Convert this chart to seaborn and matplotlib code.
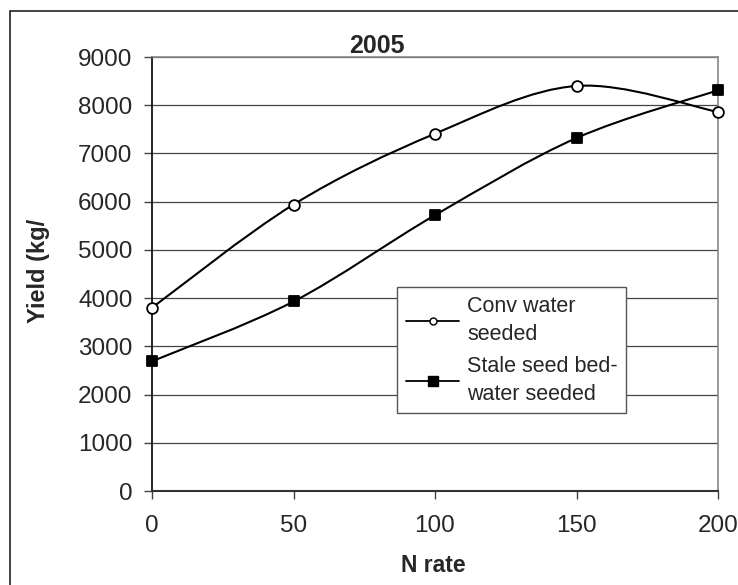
import numpy as np
import pandas as pd
import matplotlib
matplotlib.use("Agg")
import matplotlib.pyplot as plt
from matplotlib.path import Path
from matplotlib.patches import PathPatch, Rectangle
from matplotlib.lines import Line2D
import seaborn as sns

# Data
n_rate = [0, 50, 100, 150, 200]
conv_water = [3800, 5940, 7410, 8400, 7860]
stale_seed = [2690, 3930, 5720, 7320, 8310]
series_names = ["Conv water\nseeded", "Stale seed bed-\nwater seeded"]
y_ticks = [0, 1000, 2000, 3000, 4000, 5000, 6000, 7000, 8000, 9000]
x_ticks = [0, 50, 100, 150, 200]

df = pd.DataFrame({
    "N rate": n_rate * 2,
    "Yield": conv_water + stale_seed,
    "series": [series_names[0]] * len(n_rate) + [series_names[1]] * len(n_rate),
})


def smooth_path(x, y):
    # Excel style smoothed line: cubic Bezier through each point
    pts = np.column_stack([x, y]).astype(float)
    ext = np.vstack([pts[0], pts, pts[-1]])
    verts = [pts[0]]
    codes = [Path.MOVETO]
    for i in range(1, len(ext) - 2):
        p0, p1, p2, p3 = ext[i - 1], ext[i], ext[i + 1], ext[i + 2]
        verts += [p1 + (p2 - p0) / 6, p2 - (p3 - p1) / 6, p2]
        codes += [Path.CURVE4] * 3
    return Path(verts, codes)


sns.set_style("white")
plt.rcParams["font.family"] = ["Liberation Sans", "DejaVu Sans"]

fig = plt.figure(figsize=(7.38, 5.85), dpi=100)
ax = fig.add_axes([152 / 738, 1 - 491 / 585, 566 / 738, 434 / 585])

markers = {series_names[0]: "o", series_names[1]: "s"}
faces = {series_names[0]: "white", series_names[1]: "black"}
for name in series_names:
    sub = df[df["series"] == name]
    ax.add_patch(PathPatch(smooth_path(sub["N rate"], sub["Yield"]),
                           facecolor="none", edgecolor="black", lw=1.5, zorder=3))
    sns.scatterplot(data=sub, x="N rate", y="Yield", marker=markers[name],
                    color=faces[name], edgecolor="black", linewidth=1.3,
                    s=60, zorder=4, ax=ax, legend=False, clip_on=False)

ax.set_xlim(0, 200)
ax.set_ylim(0, 9000)
ax.set_xticks(x_ticks)
ax.set_yticks(y_ticks)
ax.set_xlabel("")
ax.set_ylabel("")
ax.grid(axis="y", color="#444444", lw=0.9)
ax.grid(axis="x", visible=False)
ax.tick_params(axis="both", direction="out", length=6, width=1, color="#444444",
               labelsize=17.5, bottom=True, left=True)
ax.tick_params(axis="x", pad=11)
ax.tick_params(axis="y", pad=8)
for side in ["top", "right"]:
    ax.spines[side].set_color("#888888")
    ax.spines[side].set_linewidth(1.2)
ax.spines["left"].set_color("black")
ax.spines["left"].set_linewidth(1.2)
ax.spines["bottom"].set_color("#333333")
ax.spines["bottom"].set_linewidth(1.5)

handles = [
    Line2D([], [], color="black", lw=1.3, marker="o", markersize=5,
           markerfacecolor="white", markeredgecolor="black"),
    Line2D([], [], color="black", lw=1.3, marker="s", markersize=7,
           markerfacecolor="black", markeredgecolor="black"),
]
leg = ax.legend(handles, series_names, loc="upper left",
                bbox_to_anchor=(397 / 738, 1 - 287 / 585), bbox_transform=fig.transFigure,
                fontsize=15.5, frameon=True, fancybox=False, framealpha=1,
                edgecolor="#555555", handlelength=2.5, handletextpad=0.35,
                borderpad=0.4, labelspacing=0.5, borderaxespad=0)
for t in leg.get_texts():
    t.set_linespacing(1.45)
leg.get_frame().set_linewidth(1.0)
leg.set_zorder(5)

fig.text(377 / 738, 1 - 53 / 585, "2005", ha="center", va="baseline",
         fontsize=18, fontweight="bold")
fig.text(433 / 738, 1 - 566 / 585, "N rate", ha="center", va="center",
         fontsize=16.5, fontweight="bold")
fig.text(38 / 738, 1 - 271 / 585, "Yield (kg/", ha="center", va="center",
         rotation=90, fontsize=17, fontweight="bold")

# outer chart frame (runs off the right and bottom edges)
fig.patches.append(Rectangle((10 / 738, -0.1), 1.2, 1 - 11 / 585 + 0.1,
                             transform=fig.transFigure, fill=False,
                             edgecolor="#222222", lw=1.2))

fig.savefig("out.png", dpi=100)
